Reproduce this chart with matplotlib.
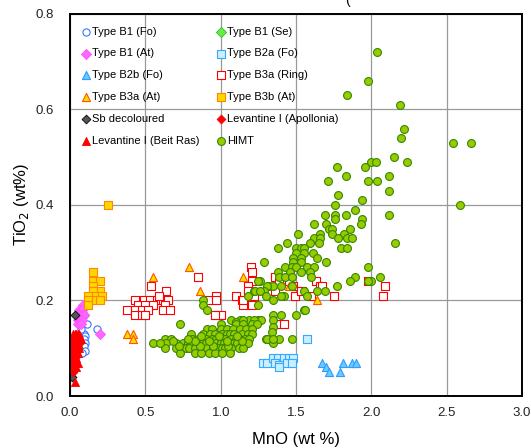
import matplotlib.pyplot as plt

plt.rcParams['font.family'] = ['Liberation Sans', 'DejaVu Sans']

# Type B1 (Fo)
b1_fo_mno = [0.11, 0.18, 0.09, 0.10, 0.09, 0.10, 0.09, 0.10, 0.08, 0.09, 0.07]
b1_fo_tio2 = [0.15, 0.14, 0.13, 0.125, 0.12, 0.11, 0.105, 0.095, 0.09, 0.17, 0.14]
# Type B1 (Se)
b1_se_mno = [0.09, 0.055, 0.055, 0.06]
b1_se_tio2 = [0.17, 0.12, 0.10, 0.11]
# Type B1 (At)
b1_at_mno = [0.085, 0.06, 0.07, 0.08, 0.05, 0.06, 0.07, 0.08, 0.09, 0.05, 0.06, 0.07, 0.08, 0.05, 0.06, 0.07, 0.20]
b1_at_tio2 = [0.19, 0.18, 0.18, 0.18, 0.17, 0.17, 0.17, 0.17, 0.17, 0.16, 0.16, 0.16, 0.16, 0.15, 0.15, 0.15, 0.13]
# Type B2a (Fo)
b2a_mno = [1.28, 1.31, 1.35, 1.38, 1.42, 1.45, 1.48, 1.36, 1.39, 1.39, 1.44, 1.47, 1.57]
b2a_tio2 = [0.07, 0.07, 0.08, 0.08, 0.08, 0.08, 0.08, 0.07, 0.065, 0.06, 0.07, 0.07, 0.12]
# Type B2b (Fo)
b2b_mno = [1.67, 1.70, 1.72, 1.79, 1.81, 1.87, 1.90]
b2b_tio2 = [0.07, 0.06, 0.05, 0.05, 0.07, 0.07, 0.07]
# Type B3a (Ring)
b3a_ring_mno = [0.38, 0.43, 0.49, 0.53, 0.58, 0.62, 0.65, 0.45, 0.50, 0.55, 0.63, 0.43, 0.48, 0.52,
                0.62, 0.66, 0.43, 0.48, 0.50, 0.54, 0.64, 0.59, 0.85, 0.92, 0.97, 0.97, 0.97, 1.00,
                1.10, 1.14, 1.15, 1.21, 1.20, 1.21, 1.21, 1.18, 1.18, 1.22, 1.36, 1.36, 1.49, 1.63,
                1.66, 1.75, 1.98, 2.09, 2.08, 1.48, 1.54, 1.60, 1.39, 1.45, 1.53, 1.67, 1.38, 1.42,
                0.96, 1.15]
b3a_ring_tio2 = [0.18, 0.20, 0.20, 0.20, 0.20, 0.20, 0.20, 0.19, 0.19, 0.19, 0.19, 0.18, 0.18, 0.18,
                 0.18, 0.18, 0.17, 0.17, 0.17, 0.23, 0.22, 0.21, 0.25, 0.20, 0.21, 0.20, 0.17, 0.17,
                 0.21, 0.20, 0.19, 0.19, 0.27, 0.26, 0.24, 0.23, 0.22, 0.21, 0.25, 0.22, 0.21, 0.24,
                 0.23, 0.21, 0.24, 0.23, 0.21, 0.23, 0.22, 0.21, 0.24, 0.24, 0.22, 0.23, 0.15, 0.15,
                 0.17, 0.20]
# Type B3a (At)
b3a_at_mno = [0.55, 0.79, 0.86, 1.15, 0.38, 0.42, 0.42, 1.45, 1.64]
b3a_at_tio2 = [0.25, 0.27, 0.22, 0.25, 0.13, 0.13, 0.12, 0.23, 0.20]
# Type B3b (At)
b3b_mno = [0.15, 0.15, 0.20, 0.15, 0.20, 0.15, 0.12, 0.17, 0.21, 0.12, 0.17, 0.20, 0.12, 0.25]
b3b_tio2 = [0.26, 0.24, 0.24, 0.23, 0.22, 0.22, 0.21, 0.21, 0.21, 0.20, 0.20, 0.20, 0.19, 0.40]
# Sb decoloured
sb_mno = [0.03, 0.01, 0.01, 0.02, 0.02, 0.02, 0.02]
sb_tio2 = [0.17, 0.05, 0.04, 0.09, 0.08, 0.07, 0.06]
# Levantine I (Apollonia)
lev_ap_mno = [0.01, 0.03, 0.05, 0.02, 0.04, 0.06, 0.01, 0.03, 0.05, 0.02, 0.04, 0.03, 0.01, 0.02]
lev_ap_tio2 = [0.12, 0.12, 0.12, 0.11, 0.11, 0.11, 0.10, 0.10, 0.10, 0.09, 0.09, 0.08, 0.07, 0.05]
# Levantine I (Beit Ras)
lev_br_mno = [0.02, 0.03, 0.04, 0.05, 0.06, 0.02, 0.04, 0.06, 0.07, 0.01, 0.03, 0.05, 0.02,
              0.04, 0.06, 0.01, 0.03, 0.05, 0.02, 0.04, 0.03, 0.05, 0.02, 0.04, 0.03]
lev_br_tio2 = [0.13, 0.13, 0.13, 0.13, 0.13, 0.12, 0.12, 0.12, 0.12, 0.11, 0.11, 0.11, 0.10,
               0.10, 0.10, 0.09, 0.09, 0.09, 0.08, 0.08, 0.07, 0.07, 0.06, 0.06, 0.03]
# HIMT
himt_mno = [2.04, 1.98, 1.84, 2.19, 2.22, 2.20, 2.54, 2.66, 2.15, 2.24, 2.00, 2.03, 1.96, 1.77,
            1.83, 2.12, 1.71, 1.98, 2.04, 2.12, 1.78, 1.94, 1.76, 2.59, 1.89, 1.69, 1.76, 1.83,
            2.12, 1.76, 1.94, 1.93, 1.70, 1.62, 1.72, 1.74, 1.86, 1.66, 1.74, 1.82, 1.51, 1.62,
            1.66, 1.78, 1.84, 1.87, 2.16, 1.44, 1.59, 1.65, 1.38, 1.50, 1.53, 1.55, 1.80, 1.84,
            1.50, 1.55, 1.61, 1.64, 1.48, 1.53, 1.29, 1.70, 1.48, 1.53, 1.43, 1.47, 1.50, 1.57,
            1.62, 1.98, 1.38, 1.46, 1.53, 1.59, 1.39, 1.43, 1.47, 1.60, 1.89, 2.06, 1.86, 2.00,
            1.98, 1.26, 1.32, 1.35, 1.40, 1.47, 1.77, 1.31, 1.22, 1.29, 1.55, 1.69, 1.64, 1.23,
            1.26, 1.30, 1.42, 1.57, 1.18, 1.25, 1.35, 1.55, 1.25, 0.88, 0.88, 0.91, 1.56, 1.50,
            1.40, 1.35, 1.35, 1.35, 1.34, 1.35, 1.39, 1.47, 1.30, 1.31, 1.35, 1.40,
            1.07, 1.13, 1.19, 1.25, 1.27, 1.10, 1.22, 1.15,
            0.73, 1.00, 1.10, 1.15, 1.21, 1.24,
            0.91, 0.94, 1.00, 1.04, 1.08, 1.13, 1.17, 1.21,
            0.80, 0.88, 0.93, 0.96, 1.01, 1.04, 1.06, 1.09, 1.14, 1.18, 1.21,
            0.63, 0.67, 0.81, 0.85, 0.90, 0.94, 0.97, 1.00, 1.03, 1.07, 1.10, 1.12, 1.16, 1.19,
            0.55, 0.64, 0.70, 0.75, 0.78, 0.80, 0.84, 0.88, 0.90, 0.93, 0.97, 1.00, 1.02, 1.06,
            1.09, 1.11, 1.15, 1.18,
            0.63, 0.70, 0.74, 0.77, 0.79, 0.83, 0.87, 0.91, 0.95, 0.98, 1.01, 1.03, 1.07, 1.12,
            1.15,
            0.73, 0.83, 0.87, 0.92, 0.96, 1.01, 1.06,
            0.72, 0.86, 0.95, 1.05, 0.68, 0.83, 0.92, 1.04, 1.14, 0.87, 0.99, 1.11, 0.78, 0.60]
himt_tio2 = [0.72, 0.66, 0.63, 0.61, 0.56, 0.54, 0.53, 0.53, 0.50, 0.49, 0.49, 0.49, 0.48, 0.48,
             0.46, 0.46, 0.45, 0.45, 0.45, 0.43, 0.42, 0.41, 0.40, 0.40, 0.39, 0.38, 0.38, 0.38,
             0.38, 0.37, 0.37, 0.36, 0.36, 0.36, 0.35, 0.35, 0.35, 0.34, 0.34, 0.34, 0.34, 0.33,
             0.33, 0.33, 0.33, 0.33, 0.32, 0.32, 0.32, 0.32, 0.31, 0.31, 0.31, 0.31, 0.31, 0.31,
             0.30, 0.30, 0.30, 0.29, 0.29, 0.29, 0.28, 0.28, 0.28, 0.28, 0.27, 0.27, 0.27, 0.27,
             0.27, 0.27, 0.26, 0.26, 0.26, 0.26, 0.25, 0.25, 0.25, 0.25, 0.25, 0.25, 0.24, 0.24,
             0.24, 0.24, 0.23, 0.23, 0.23, 0.23, 0.23, 0.23, 0.22, 0.22, 0.22, 0.22, 0.22, 0.22,
             0.22, 0.21, 0.21, 0.21, 0.21, 0.19, 0.20, 0.18, 0.24, 0.20, 0.19, 0.18, 0.18, 0.17,
             0.17, 0.17, 0.16, 0.145, 0.135, 0.11, 0.12, 0.12, 0.12, 0.12, 0.12, 0.21,
             0.16, 0.16, 0.16, 0.16, 0.16, 0.155, 0.16, 0.16,
             0.15, 0.15, 0.15, 0.15, 0.15, 0.15,
             0.14, 0.14, 0.14, 0.14, 0.14, 0.14, 0.14, 0.14,
             0.13, 0.13, 0.13, 0.13, 0.13, 0.13, 0.13, 0.13, 0.13, 0.13, 0.13,
             0.12, 0.12, 0.12, 0.12, 0.12, 0.12, 0.12, 0.12, 0.12, 0.12, 0.12, 0.12, 0.12, 0.12,
             0.11, 0.11, 0.11, 0.11, 0.11, 0.11, 0.11, 0.11, 0.11, 0.11, 0.11, 0.11, 0.11, 0.11,
             0.11, 0.11, 0.11, 0.11,
             0.10, 0.10, 0.10, 0.10, 0.10, 0.10, 0.10, 0.10, 0.10, 0.10, 0.10, 0.10, 0.10, 0.10,
             0.10,
             0.09, 0.09, 0.09, 0.09, 0.09, 0.09, 0.09,
             0.105, 0.105, 0.105, 0.105, 0.115, 0.115, 0.115, 0.115, 0.115, 0.125, 0.125, 0.125,
             0.12, 0.11]

x_ticks = [0.0, 0.5, 1.0, 1.5, 2.0, 2.5, 3.0]
y_ticks = [0.0, 0.2, 0.4, 0.6, 0.8]

fig = plt.figure(figsize=(5.31, 4.48), dpi=100)
ax = fig.add_axes([0.132, 0.116, 0.851, 0.853])

ms = 27
h = {}
h['b1fo'] = ax.scatter(b1_fo_mno, b1_fo_tio2, s=ms, marker='o', facecolor='white',
                       edgecolor='#3377ff', linewidth=0.8, label='Type B1 (Fo)')
h['b1se'] = ax.scatter(b1_se_mno, b1_se_tio2, s=ms, marker='D', facecolor='#66ee44',
                       edgecolor='#33bb33', linewidth=0.6, label='Type B1 (Se)')
h['b1at'] = ax.scatter(b1_at_mno, b1_at_tio2, s=ms, marker='D', facecolor='#ff66ff',
                       edgecolor='#ff55ff', linewidth=0.6, label='Type B1 (At)')
h['b2a'] = ax.scatter(b2a_mno, b2a_tio2, s=ms, marker='s', facecolor='#cceeff',
                      edgecolor='#33aaff', linewidth=0.8, label='Type B2a (Fo)')
h['b2b'] = ax.scatter(b2b_mno, b2b_tio2, s=34, marker='^', facecolor='#66ccff',
                      edgecolor='#3399ff', linewidth=0.8, label='Type B2b (Fo)')
h['b3ring'] = ax.scatter(b3a_ring_mno, b3a_ring_tio2, s=ms, marker='s', facecolor='white',
                         edgecolor='#ff0000', linewidth=0.8, label='Type B3a (Ring)')
h['b3aat'] = ax.scatter(b3a_at_mno, b3a_at_tio2, s=34, marker='^', facecolor='#ffdd00',
                        edgecolor='#ff5500', linewidth=0.8, label='Type B3a (At)')
h['b3bat'] = ax.scatter(b3b_mno, b3b_tio2, s=ms, marker='s', facecolor='#ffd700',
                        edgecolor='#ff8800', linewidth=0.8, label='Type B3b (At)')
h['sb'] = ax.scatter(sb_mno, sb_tio2, s=20, marker='D', facecolor='#555555',
                     edgecolor='black', linewidth=0.6, label='Sb decoloured')
h['levap'] = ax.scatter(lev_ap_mno, lev_ap_tio2, s=20, marker='D', facecolor='#ff0000',
                        edgecolor='#ff0000', linewidth=0.6, label='Levantine I (Apollonia)')
h['levbr'] = ax.scatter(lev_br_mno, lev_br_tio2, s=34, marker='^', facecolor='#ff0000',
                        edgecolor='#ff0000', linewidth=0.6, label='Levantine I (Beit Ras)')
h['himt'] = ax.scatter(himt_mno, himt_tio2, s=32, marker='o', facecolor='#99cc00',
                       edgecolor='#338800', linewidth=0.8, label='HIMT')

ax.set_xlim(0, 3.0)
ax.set_ylim(0, 0.8)
ax.set_xticks(x_ticks)
ax.set_yticks(y_ticks)
ax.set_xticklabels([f'{v:.1f}' for v in x_ticks])
ax.set_yticklabels([f'{v:.1f}' for v in y_ticks])
ax.tick_params(axis='both', length=0, labelsize=9.5, colors='#222222')
ax.tick_params(axis='x', pad=8)
ax.tick_params(axis='y', pad=12)
ax.grid(True, color='#999999', linewidth=0.9)
ax.set_axisbelow(True)
for sp in ax.spines.values():
    sp.set_color('black')
    sp.set_linewidth(1.4)

ax.set_xlabel('MnO (wt %)', fontsize=12, labelpad=9)
ax.set_ylabel('TiO$_2$ (wt%)', fontsize=12, labelpad=3)

order = ['b1fo', 'b1at', 'b2b', 'b3aat', 'sb', 'levbr',
         'b1se', 'b2a', 'b3ring', 'b3bat', 'levap', 'himt']
ax.legend([h[k] for k in order], [h[k].get_label() for k in order], ncol=2,
          loc='upper left', bbox_to_anchor=(0.008, 0.99), frameon=False, fontsize=8,
          handlelength=0.6, handletextpad=0.25, labelspacing=1.07, columnspacing=1.65,
          borderaxespad=0.4, scatterpoints=1)

# title of the source figure is cut off at the top edge, only its "(" shows
fig.text(347 / 531, 1.0, '(', fontsize=10, ha='center', va='center')

fig.savefig('out.png', dpi=100)
